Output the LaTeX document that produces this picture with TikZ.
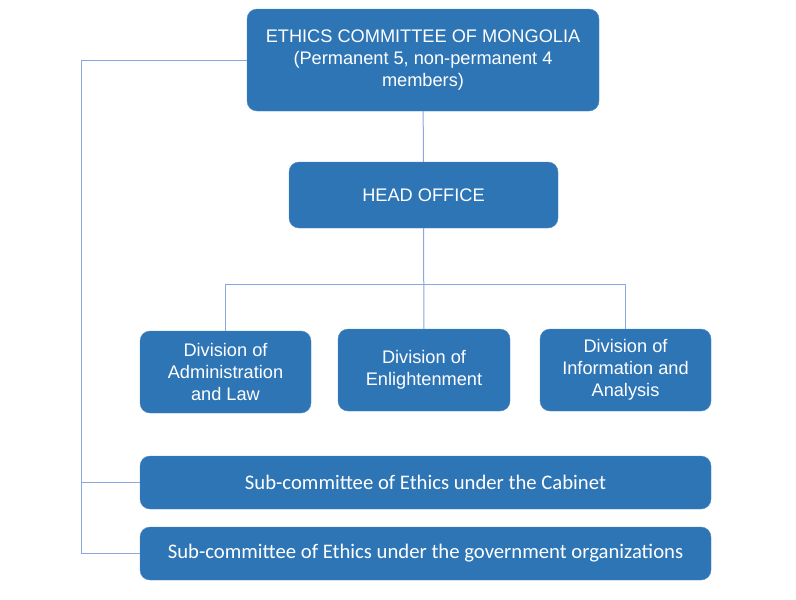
\documentclass[tikz,border=0pt]{standalone}
\usepackage{fontspec}
\setmainfont{Liberation Sans}
\newfontfamily\calfont{Carlito}
\usepackage{xcolor}
\definecolor{boxblue}{HTML}{2E75B6}
\definecolor{linkblue}{HTML}{8AA8DE}
\tikzset{
  orgbox/.style={rounded corners=10pt, fill=boxblue, draw=boxblue!85!white, text=white,
    align=center, inner sep=0pt, font=\fontsize{18.2}{22}\selectfont},
  subbox/.style={orgbox, minimum width=571pt, minimum height=53pt, font=\calfont\fontsize{20.7}{22}\selectfont},
  link/.style={draw=linkblue, line width=1pt}
}
\begin{document}
\begin{tikzpicture}[x=1pt,y=-1pt]
                    \useasboundingbox (0,0) rectangle (796,600);
                    % Committee
                    \node[orgbox, minimum width=352pt, minimum height=102pt] (committee) at (423,60)
                      {ETHICS COMMITTEE OF MONGOLIA\\(Permanent 5, non-permanent 4\\members)};
                    
                    % Head office
                    \node[orgbox, minimum width=269pt, minimum height=66pt] (head) at (423.5,195) {HEAD OFFICE};
                    
                    % Divisions
                    \node[orgbox, minimum width=171pt, minimum height=82pt] (divlaw) at (225.5,372)
                      {Division of\\Administration\\and Law};
                    \node[orgbox, minimum width=172pt, minimum height=82pt] (divenl) at (424,370)
                      {Division of\\Enlightenment};
                    \node[orgbox, minimum width=171pt, minimum height=82pt] (divinf) at (625.5,370)
                      {Division of\\Information and\\Analysis};
                    
                    % Sub-committees
                    \node[subbox] (subcab) at (425.5,482.5) {Sub-committee of Ethics under the Cabinet};
                    \node[subbox] (subgov) at (425.5,553.5) {Sub-committee of Ethics under the government organizations};
                    
                    % Connectors
                    \coordinate (bus) at (424,284);
                    \coordinate (lft) at (81,60);
                    \draw[link] (committee) -- (head);
                    \draw[link] (head) -- (divenl);
                    \draw[link] (bus) -| (divlaw.north);
                    \draw[link] (bus) -| (divinf.north);
                    \draw[link] (committee.west |- lft) -- (lft) |- (subgov.west);
                    \draw[link] (subcab.west) -| (lft);
                \end{tikzpicture}
\end{document}
